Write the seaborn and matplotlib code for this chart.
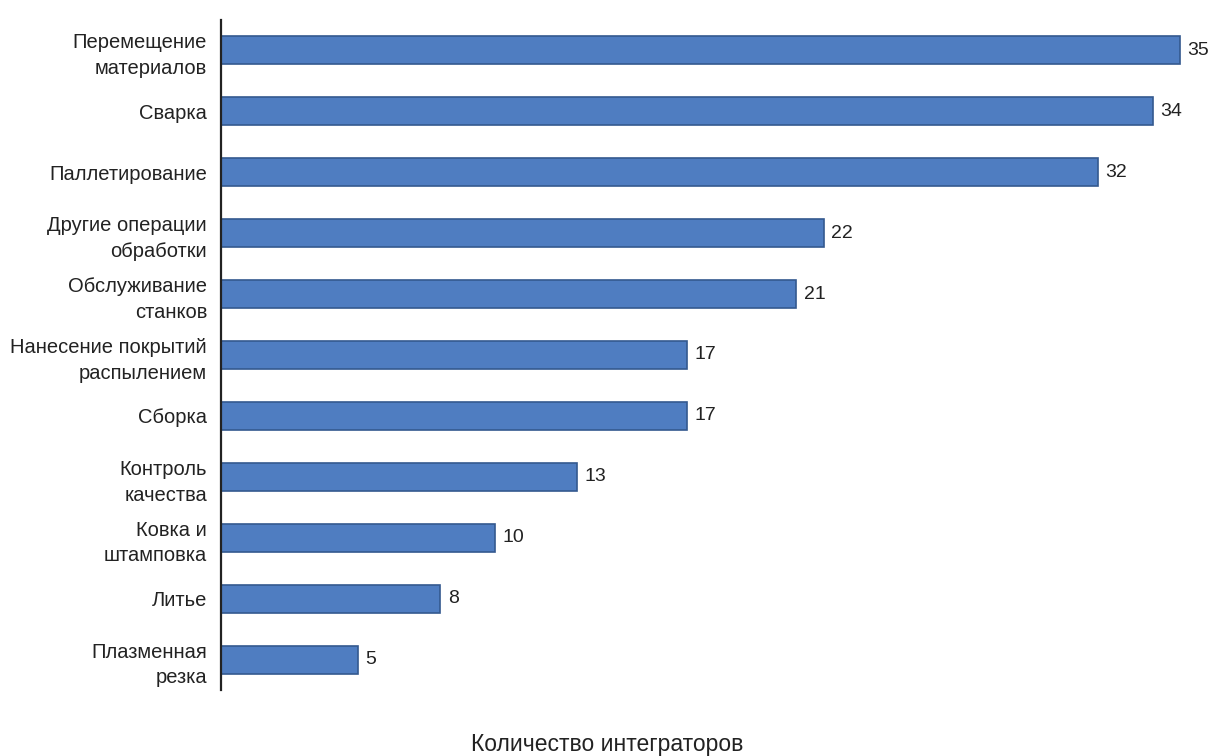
import matplotlib
matplotlib.use("Agg")
import matplotlib.pyplot as plt
import seaborn as sns
import pandas as pd

categories = [
    "Перемещение\nматериалов",
    "Сварка",
    "Паллетирование",
    "Другие операции\nобработки",
    "Обслуживание\nстанков",
    "Нанесение покрытий\nраспылением",
    "Сборка",
    "Контроль\nкачества",
    "Ковка и\nштамповка",
    "Литье",
    "Плазменная\nрезка",
]
values = [35, 34, 32, 22, 21, 17, 17, 13, 10, 8, 5]
x_label = "Количество интеграторов"

sns.set_theme(style="white")
plt.rcParams["font.family"] = ["Liberation Sans Narrow", "Liberation Sans", "DejaVu Sans"]

df = pd.DataFrame({"category": categories, "value": values})

fig = plt.figure(figsize=(12.11, 7.56), dpi=100)
ax = fig.add_axes([221 / 1211, 1 - 690 / 756, (36 * 27.4) / 1211, (690 - 20) / 756])

sns.barplot(data=df, x="value", y="category", orient="h", color="#4F7DC1",
            saturation=1, edgecolor="#34598F", linewidth=1.2, width=0.46, ax=ax)

for i, v in enumerate(values):
    ax.text(v + 0.28, i, str(v), va="center", ha="left", fontsize=14, color="#222222")

ax.set_xlim(0, 36)
ax.set_ylim(10.5, -0.5)
ax.set_xticks([])
ax.set_ylabel("")
ax.set_xlabel("")
for s in ["top", "right", "bottom"]:
    ax.spines[s].set_visible(False)
ax.spines["left"].set_color("#222222")
ax.spines["left"].set_linewidth(1.6)
ax.tick_params(axis="y", length=0, pad=10, labelsize=14.5, labelcolor="#222222")
for lbl in ax.get_yticklabels():
    lbl.set_multialignment("right")
    lbl.set_linespacing(1.45)

fig.text(607 / 1211, 1 - 744 / 756, x_label, ha="center", va="center",
         fontsize=16.5, color="#222222")

fig.savefig("out.png", dpi=100, facecolor="white")
